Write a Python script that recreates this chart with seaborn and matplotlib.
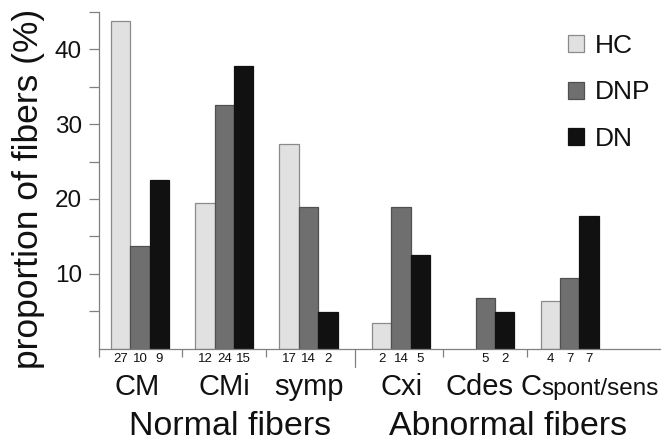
import numpy as np
import pandas as pd
import seaborn as sns
import matplotlib.pyplot as plt
import matplotlib.transforms as mtransforms

# --- data ---
categories = ['CM', 'CMi', 'symp', 'Cxi', 'Cdes', 'Cspont/sens']
groups = ['HC', 'DNP', 'DN']
hc = [43.7, 19.5, 27.3, 3.4, np.nan, 6.4]
dnp = [13.7, 32.5, 18.9, 18.9, 6.8, 9.5]
dn = [22.5, 37.7, 4.9, 12.5, 4.9, 17.7]
n_hc = ['27', '12', '17', '2', '', '4']
n_dnp = ['10', '24', '14', '14', '5', '7']
n_dn = ['9', '15', '2', '5', '2', '7']

# x position of each category (small extra gap between normal / abnormal)
group_pos = [0, 1, 2, 3.1, 4.1, 5.1]
BAR_W = 0.69

rows = []
for i, cat in enumerate(categories):
    for g, vals in zip(groups, [hc, dnp, dn]):
        rows.append({'pos': group_pos[i], 'cat': cat, 'group': g, 'pct': vals[i]})
df = pd.DataFrame(rows)

sns.set_theme(style='white')
plt.rcParams['font.family'] = ['Liberation Sans', 'DejaVu Sans']
TXT = '#111111'
GREY = '#808080'

fig = plt.figure(figsize=(6.63, 4.41), dpi=100)
ax = fig.add_axes([0.15, 0.209, 0.845, 0.7645])

palette = {'HC': '#e1e1e1', 'DNP': '#6f6f6f', 'DN': '#111111'}
edges = {'HC': '#8a8a8a', 'DNP': '#505050', 'DN': '#111111'}
sns.barplot(data=df, x='pos', y='pct', hue='group', hue_order=groups,
            palette=palette, native_scale=True, width=BAR_W, dodge=True,
            linewidth=0.9, saturation=1, ax=ax)
for cont, g in zip(ax.containers, groups):
    for p in cont:
        p.set_edgecolor(edges[g])

ax.set_xlim(-0.483, 6.17)
ax.set_ylim(0, 45)
ax.set_yticks([5, 10, 15, 20, 25, 30, 35, 40, 45])
ax.set_yticklabels(['', '10', '', '20', '', '30', '', '40', ''])
ax.tick_params(axis='y', length=7.2, width=0.9, color=GREY,
               labelsize=17.5, labelcolor=TXT, pad=5.5, direction='out', left=True)
ax.set_xticks([])
ax.set_xticks([-0.483, 0.5, 1.5, 3.6, 4.6], minor=True)
ax.tick_params(axis='x', which='minor', length=5.8, width=0.9, color=GREY,
               direction='out', bottom=True)
ax.set_xlabel('')
ax.set_ylabel('')
for s in ['top', 'right']:
    ax.spines[s].set_visible(False)
for s in ['left', 'bottom']:
    ax.spines[s].set_color(GREY)
    ax.spines[s].set_linewidth(0.9)

# long separator between normal and abnormal fibers
tr_ax = mtransforms.blended_transform_factory(ax.transData, ax.transAxes)
ax.plot([2.55, 2.55], [0, -0.053], transform=tr_ax, color=GREY,
        lw=0.9, clip_on=False)

# fiber counts under each bar
for i in range(len(categories)):
    for j, counts in enumerate([n_hc, n_dnp, n_dn]):
        x = group_pos[i] + (j - 1) * BAR_W / 3
        ax.annotate(counts[i], xy=(x, 0), xytext=(0, -7.3),
                    textcoords='offset points', ha='center', va='center',
                    fontsize=9.5, color=TXT)

# category labels
tr_fig = mtransforms.blended_transform_factory(ax.transData, fig.transFigure)
label_x = [-0.04, 0.0, 0.0, 0.01, -0.07]
y_cat = 1 - 395 / 441
for cat, pos, dx in zip(categories[:5], group_pos, label_x):
    fig.text(pos + dx, y_cat, cat, transform=tr_fig, ha='center',
             va='baseline', fontsize=21, color=TXT)
c_x = (541.7 - 140) / 84.3
fig.text(c_x, y_cat, 'C', transform=tr_fig, ha='right', va='baseline',
         fontsize=21, color=TXT)
fig.text(c_x, y_cat, 'spont/sens', transform=tr_fig, ha='left',
         va='baseline', fontsize=17.5, color=TXT)

y_grp = 1 - 435 / 441
fig.text(230.5 / 663, y_grp, 'Normal fibers', ha='center', va='baseline',
         fontsize=24.5, color=TXT)
fig.text(508.3 / 663, y_grp, 'Abnormal fibers', ha='center', va='baseline',
         fontsize=24.5, color=TXT)

fig.text(29 / 663, 1 - 189 / 441, 'proportion of fibers (%)',
         rotation=90, ha='center', va='center', fontsize=25.5, color=TXT)

leg = ax.legend(loc='upper left', bbox_to_anchor=(568 / 663, 1 - 34 / 441),
                bbox_transform=fig.transFigure, frameon=False, fontsize=19,
                handlelength=0.62, handleheight=0.62, handletextpad=0.4,
                labelspacing=0.85, borderpad=0, borderaxespad=0,
                labelcolor=TXT)
for h, g in zip(leg.legend_handles, groups):
    h.set_edgecolor(edges[g])

fig.savefig('out.png', dpi=100)
